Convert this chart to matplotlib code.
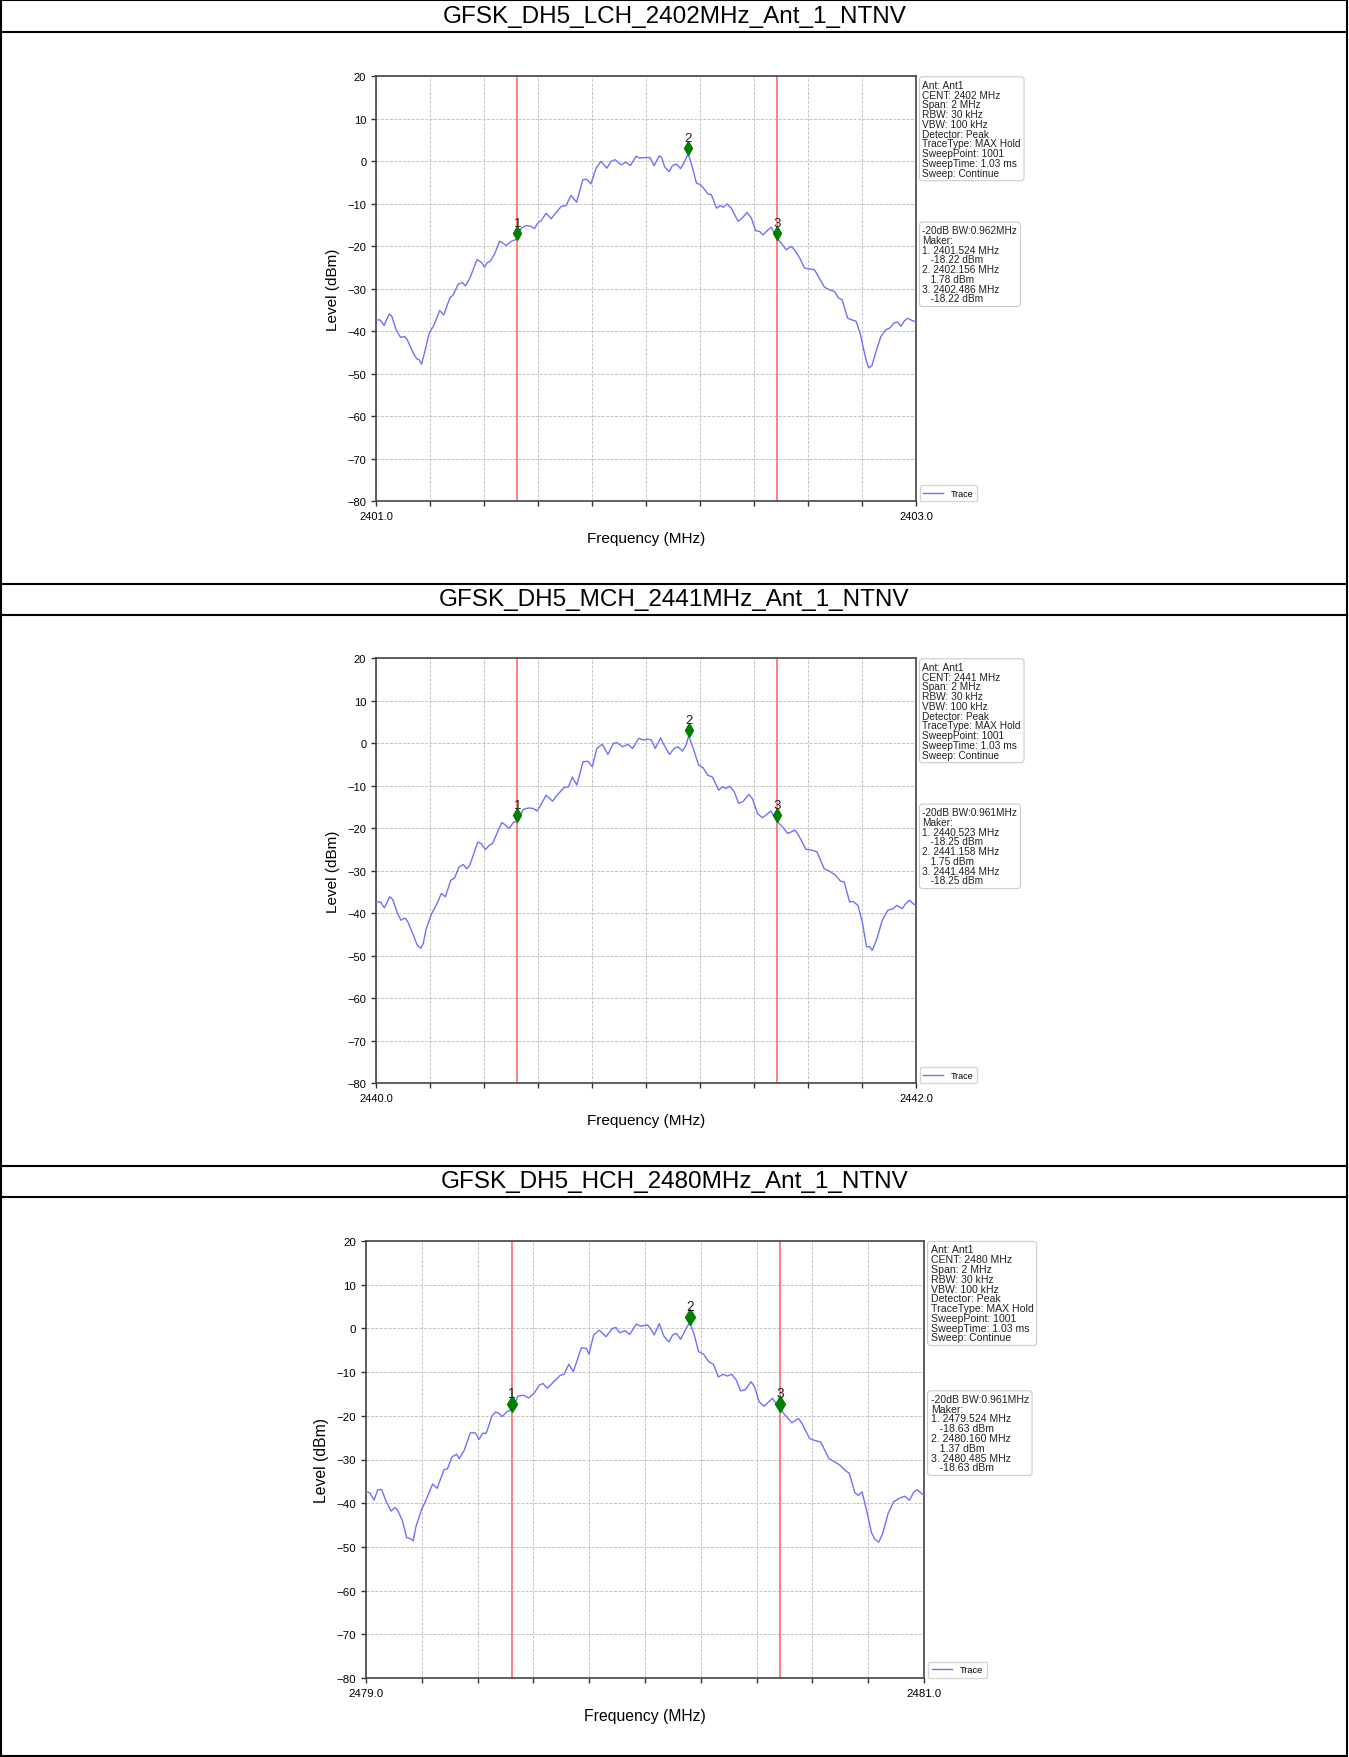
import matplotlib
matplotlib.use("Agg")
import matplotlib.pyplot as plt
from matplotlib.transforms import offset_copy

plt.rcParams['font.family'] = ['Liberation Sans', 'DejaVu Sans']

W, H = 1349, 1758

titles = ["GFSK_DH5_LCH_2402MHz_Ant_1_NTNV",
          "GFSK_DH5_MCH_2441MHz_Ant_1_NTNV",
          "GFSK_DH5_HCH_2480MHz_Ant_1_NTNV"]
centers = [2402, 2441, 2480]
bandwidths = [0.962, 0.961, 0.961]
marker_freqs = [[2401.524, 2402.156, 2402.486],
                [2440.523, 2441.158, 2441.484],
                [2479.524, 2480.160, 2480.485]]
marker_levels = [[-18.22, 1.78, -18.22],
                 [-18.25, 1.75, -18.25],
                 [-18.63, 1.37, -18.63]]

# trace points, frequency given as offset (MHz) from the start of the span
lch_offset = [
    0.000, 0.015, 0.030, 0.049, 0.059, 0.074, 0.091, 0.107, 0.116, 0.138,
    0.150, 0.160, 0.169, 0.181, 0.197, 0.214, 0.236, 0.251, 0.273, 0.286,
    0.304, 0.320, 0.331, 0.347, 0.374, 0.390, 0.402, 0.411, 0.423, 0.439,
    0.458, 0.470, 0.482, 0.501, 0.524, 0.538, 0.556, 0.575, 0.587, 0.599,
    0.612, 0.630, 0.649, 0.661, 0.686, 0.704, 0.722, 0.743, 0.766, 0.780,
    0.796, 0.815, 0.833, 0.855, 0.870, 0.886, 0.907, 0.926, 0.942, 0.963,
    0.977, 0.999, 1.015, 1.030, 1.049, 1.058, 1.070, 1.086, 1.098, 1.113,
    1.128, 1.140, 1.156, 1.169, 1.187, 1.202, 1.218, 1.230, 1.242, 1.261,
    1.276, 1.286, 1.300, 1.316, 1.341, 1.357, 1.374, 1.390, 1.406, 1.421,
    1.433, 1.452, 1.464, 1.486, 1.501, 1.519, 1.538, 1.550, 1.569, 1.587,
    1.606, 1.624, 1.642, 1.661, 1.679, 1.698, 1.714, 1.726, 1.747, 1.763,
    1.778, 1.793, 1.805, 1.815, 1.825, 1.837, 1.852, 1.870, 1.889, 1.903,
    1.919, 1.932, 1.944, 1.956, 1.969, 1.981, 2.000]
lch_level = [
    -37.3, -37.3, -38.6, -35.9, -36.5, -39.6, -41.4, -41.2, -42.0, -45.1,
    -46.4, -46.7, -47.7, -44.7, -40.4, -38.6, -35.1, -36.1, -32.2, -31.4,
    -28.9, -28.5, -29.3, -27.6, -23.1, -23.7, -24.9, -23.9, -23.5, -21.8,
    -18.8, -19.2, -19.8, -18.8, -18.22, -15.7, -15.1, -15.3, -15.8, -14.5,
    -13.9, -12.2, -13.5, -12.5, -10.6, -10.4, -8.0, -9.6, -4.3, -4.2,
    -5.3, -1.6, 0.0, -1.6, 0.0, 0.4, -0.8, -0.2, -1.0, 1.2,
    0.8, 0.9, 0.9, -1.0, 1.3, 0.9, -1.4, -2.4, -1.0, -0.6,
    -1.7, -0.4, 1.78, -0.8, -5.1, -5.5, -6.7, -7.7, -7.8, -11.0,
    -10.4, -10.8, -10.0, -11.0, -14.1, -13.3, -12.0, -13.3, -16.3, -16.5,
    -17.3, -16.1, -15.5, -18.22, -19.2, -20.8, -20.0, -20.8, -22.7, -25.1,
    -25.3, -25.5, -27.5, -29.6, -30.2, -30.6, -32.2, -32.5, -36.9, -37.3,
    -37.6, -40.4, -43.9, -46.7, -48.6, -48.0, -44.7, -41.2, -39.6, -39.2,
    -38.0, -37.8, -38.8, -37.6, -36.9, -37.3, -37.8]

mch_offset = [
    0.000, 0.017, 0.031, 0.051, 0.062, 0.078, 0.092, 0.108, 0.118, 0.139,
    0.152, 0.166, 0.175, 0.186, 0.206, 0.226, 0.242, 0.257, 0.277, 0.291,
    0.307, 0.323, 0.336, 0.347, 0.377, 0.390, 0.405, 0.419, 0.431, 0.448,
    0.466, 0.479, 0.493, 0.509, 0.523, 0.546, 0.565, 0.583, 0.596, 0.610,
    0.630, 0.654, 0.670, 0.697, 0.713, 0.727, 0.744, 0.767, 0.785, 0.801,
    0.818, 0.838, 0.859, 0.879, 0.892, 0.913, 0.933, 0.950, 0.973, 0.991,
    1.007, 1.020, 1.034, 1.054, 1.067, 1.087, 1.104, 1.118, 1.135, 1.148,
    1.158, 1.175, 1.195, 1.211, 1.229, 1.246, 1.269, 1.283, 1.296, 1.310,
    1.327, 1.343, 1.359, 1.381, 1.394, 1.413, 1.431, 1.444, 1.462, 1.484,
    1.505, 1.525, 1.552, 1.565, 1.592, 1.612, 1.633, 1.660, 1.680, 1.700,
    1.720, 1.734, 1.754, 1.767, 1.785, 1.801, 1.817, 1.828, 1.838, 1.855,
    1.875, 1.895, 1.915, 1.929, 1.949, 1.962, 1.976, 1.989, 2.000]
mch_level = [
    -37.3, -37.3, -38.7, -36.1, -36.7, -39.7, -41.6, -41.1, -42.0, -45.2,
    -47.4, -48.2, -47.1, -43.6, -40.1, -37.7, -35.3, -36.1, -32.2, -31.7,
    -29.1, -28.5, -29.5, -28.7, -23.2, -23.6, -25.0, -24.0, -23.6, -21.2,
    -18.6, -19.2, -20.0, -18.6, -18.25, -15.5, -15.2, -15.3, -15.9, -14.5,
    -12.2, -13.6, -12.2, -10.4, -10.2, -7.9, -9.8, -4.3, -4.2, -5.5,
    -1.2, -0.2, -2.6, 0.0, 0.2, -0.8, -0.2, -1.2, 1.2, 0.8,
    1.0, 0.8, -1.2, 1.3, -0.4, -2.6, -1.2, -0.8, -1.8, -0.4,
    1.75, -1.2, -5.1, -5.7, -7.5, -7.9, -11.0, -10.2, -10.6, -10.1,
    -11.4, -14.1, -13.7, -12.0, -13.0, -16.5, -17.5, -16.9, -15.9, -18.25,
    -19.6, -21.2, -20.4, -21.6, -24.9, -25.1, -25.5, -29.5, -30.1, -30.9,
    -32.4, -32.6, -37.3, -37.2, -38.1, -42.0, -47.9, -47.8, -48.7, -46.0,
    -41.6, -39.3, -38.9, -38.1, -38.9, -37.7, -36.9, -37.7, -38.1]

hch_offset = [
    0.000, 0.013, 0.029, 0.042, 0.056, 0.073, 0.090, 0.104, 0.113, 0.130,
    0.146, 0.159, 0.169, 0.179, 0.199, 0.215, 0.239, 0.255, 0.279, 0.292,
    0.308, 0.325, 0.334, 0.352, 0.374, 0.392, 0.405, 0.418, 0.431, 0.451,
    0.465, 0.478, 0.488, 0.504, 0.524, 0.544, 0.564, 0.573, 0.584, 0.604,
    0.621, 0.634, 0.650, 0.670, 0.697, 0.710, 0.727, 0.743, 0.772, 0.790,
    0.799, 0.816, 0.836, 0.860, 0.883, 0.896, 0.909, 0.929, 0.945, 0.969,
    0.985, 1.009, 1.019, 1.033, 1.051, 1.068, 1.086, 1.099, 1.112, 1.128,
    1.144, 1.160, 1.175, 1.192, 1.210, 1.228, 1.245, 1.263, 1.281, 1.294,
    1.311, 1.327, 1.343, 1.360, 1.380, 1.393, 1.409, 1.427, 1.440, 1.457,
    1.485, 1.506, 1.526, 1.550, 1.563, 1.590, 1.606, 1.630, 1.659, 1.679,
    1.699, 1.719, 1.732, 1.752, 1.765, 1.778, 1.794, 1.812, 1.825, 1.838,
    1.852, 1.871, 1.891, 1.911, 1.931, 1.948, 1.964, 1.975, 1.988, 2.000]
hch_level = [
    -37.4, -37.6, -39.3, -36.9, -36.9, -39.7, -41.8, -41.0, -41.6, -43.9,
    -47.9, -48.1, -48.6, -45.4, -41.5, -39.3, -35.6, -36.6, -32.4, -32.1,
    -29.4, -28.8, -29.8, -27.9, -23.9, -23.9, -25.4, -24.0, -24.0, -20.1,
    -19.1, -19.5, -20.2, -19.1, -18.63, -15.5, -15.3, -15.6, -15.9, -14.7,
    -13.0, -12.6, -13.7, -12.4, -10.7, -10.5, -8.2, -9.9, -4.4, -4.6,
    -5.9, -1.5, -0.4, -1.9, 0.0, 0.2, -1.0, -0.5, -1.4, 1.0,
    0.5, 0.8, 0.0, -1.5, 1.1, -1.8, -3.1, -1.5, -1.1, -2.5,
    -0.4, 1.37, -1.1, -5.3, -5.9, -7.6, -8.2, -11.1, -10.5, -10.9,
    -10.5, -11.8, -14.3, -14.0, -12.2, -13.4, -16.8, -17.8, -17.0, -16.0,
    -18.63, -20.1, -21.6, -20.6, -21.8, -25.2, -25.6, -26.0, -29.8, -30.5,
    -31.3, -32.6, -33.1, -37.6, -38.2, -37.4, -41.6, -46.8, -48.3, -48.9,
    -46.9, -42.4, -39.7, -38.9, -38.4, -39.3, -37.4, -36.9, -37.6, -38.2]

traces = [(lch_offset, lch_level), (mch_offset, mch_level), (hch_offset, hch_level)]

# table grid (pixels, from the top) and plot boxes: left, top, right, bottom
row_lines = [1, 33, 585, 616, 1167, 1198, 1757]
title_y = [17, 600.5, 1182.5]
plot_boxes = [(376, 77.4, 916, 502.4), (376, 659.4, 916, 1084.4), (366, 1242, 924, 1679)]
font_scale = [1.0, 1.0, 1.033]


def draw_panel(fig, box, s, center, offsets, levels, mfreq, mlevel, bw):
    left, top, right, bottom = box
    ax = fig.add_axes([left / W, 1 - bottom / H, (right - left) / W, (bottom - top) / H])
    start = center - 1

    freqs = [start + o for o in offsets]
    ax.plot(freqs, levels, color='#7070ff', lw=1.0, label='Trace', zorder=3)
    for f in (mfreq[0], mfreq[2]):
        ax.axvline(f, color='#ff8080', lw=1.4, zorder=2)

    # marker diamonds sit just above the trace point
    lift = offset_copy(ax.transData, fig=fig, y=4.0 * s, units='points')
    ax.plot(mfreq, mlevel, 'd', color='green', ms=7.5 * s, transform=lift, zorder=5)
    for i, (f, v) in enumerate(zip(mfreq, mlevel)):
        ax.annotate(str(i + 1), (f, v), xytext=(0, 9.0 * s), textcoords='offset points',
                    ha='center', va='baseline', fontsize=9.5 * s, color='#222222', zorder=6)

    ax.set_xlim(start, start + 2)
    ax.set_ylim(-80, 20)
    ax.set_xticks([start + 0.2 * k for k in range(11)])
    ax.set_xticklabels([f'{start:.1f}'] + [''] * 9 + [f'{start + 2:.1f}'])
    ax.set_yticks(range(-80, 21, 10))
    ax.tick_params(labelsize=8 * s, length=3.5 * s, width=1.0, color='#333333')
    ax.grid(True, linestyle='--', color='#bdbdbd', lw=0.6)
    for sp in ax.spines.values():
        sp.set_color('#444444')
        sp.set_linewidth(1.2)
    ax.set_xlabel('Frequency (MHz)', fontsize=11 * s, labelpad=7)
    ax.set_ylabel('Level (dBm)', fontsize=11 * s, labelpad=5)

    box_style = dict(boxstyle='round,pad=0.3', fc='white', ec='#cccccc', lw=0.8)
    info = (f"Ant: Ant1\nCENT: {center} MHz\nSpan: 2 MHz\nRBW: 30 kHz\nVBW: 100 kHz\n"
            f"Detector: Peak\nTraceType: MAX Hold\nSweepPoint: 1001\n"
            f"SweepTime: 1.03 ms\nSweep: Continue")
    ax.text(1.012, 0.992, info, transform=ax.transAxes, ha='left', va='top',
            fontsize=7.3 * s, linespacing=0.97, color='#222222', bbox=box_style)
    lines = [f"-20dB BW:{bw:.3f}MHz", "Maker:"]
    for i, (f, v) in enumerate(zip(mfreq, mlevel)):
        lines.append(f"{i + 1}. {f:.3f} MHz")
        lines.append(f"   {v:.2f} dBm")
    ax.text(1.012, 0.650, "\n".join(lines), transform=ax.transAxes, ha='left', va='top',
            fontsize=7.3 * s, linespacing=0.97, color='#222222', bbox=box_style)

    ax.legend(loc='lower left', bbox_to_anchor=(1.007, 0.0), borderaxespad=0,
              fontsize=6.5 * s, handlelength=2.2, edgecolor='#cccccc', fancybox=True)
    return ax


fig = plt.figure(figsize=(W / 100, H / 100), dpi=100)
fig.patch.set_facecolor('white')

table = fig.add_axes([0, 0, 1, 1])
table.set_xlim(0, W)
table.set_ylim(H, 0)
table.axis('off')
for y in row_lines:
    table.plot([1, W - 2], [y, y], color='black', lw=1.5, solid_capstyle='projecting')
for x in (1, W - 2):
    table.plot([x, x], [row_lines[0], row_lines[-1]], color='black', lw=1.5)
for y, t in zip(title_y, titles):
    table.text(W / 2, y, t, ha='center', va='center', fontsize=17.5, color='black')

for k in range(3):
    offs, lev = traces[k]
    draw_panel(fig, plot_boxes[k], font_scale[k], centers[k], offs, lev,
               marker_freqs[k], marker_levels[k], bandwidths[k])

fig.savefig('out.png', dpi=100)
